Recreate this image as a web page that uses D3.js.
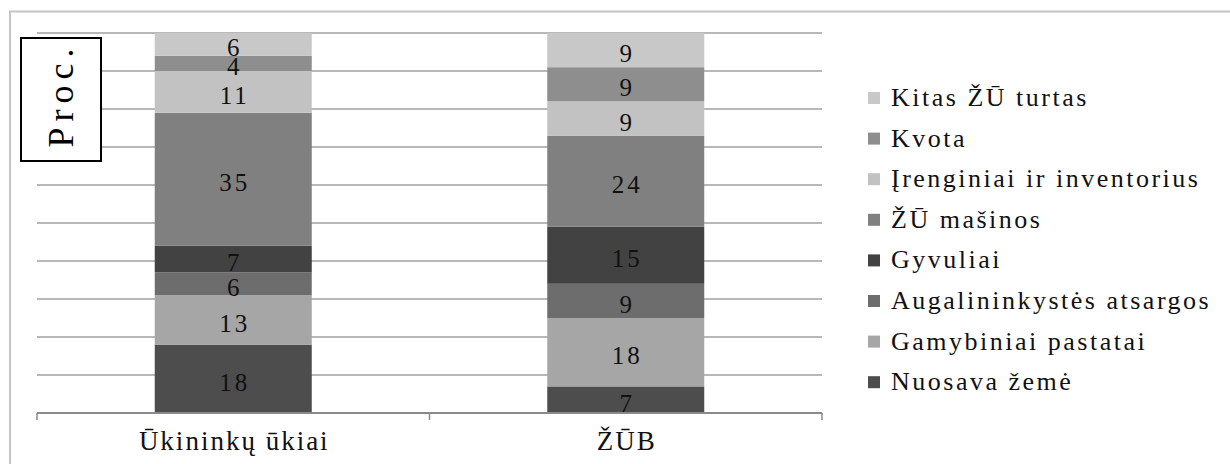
<!DOCTYPE html>
<html><head><meta charset="utf-8">
<script src="https://cdn.jsdelivr.net/npm/d3@7"></script>
<style>body{margin:0;background:#fff}svg{display:block}</style>
</head><body><svg id="c" width="1230" height="464"></svg>
<script>
const categories = ["Ūkininkų ūkiai", "ŽŪB"];
const seriesNames = ["Nuosava žemė","Gamybiniai pastatai","Augalininkystės atsargos","Gyvuliai","ŽŪ mašinos","Įrenginiai ir inventorius","Kvota","Kitas ŽŪ turtas"];
const ukininkuValues = [18,13,6,7,35,11,4,6];
const zubValues = [7,18,9,15,24,9,9,9];
const seriesColors = ["#4d4d4d","#a6a6a6","#6d6d6d","#424242","#808080","#c2c2c2","#8e8e8e","#c8c8c8"];
const yTicks = [0,10,20,30,40,50,60,70,80,90,100];
const yLabel = "Proc.";
const FONT = "'Liberation Serif', 'DejaVu Serif', 'Times New Roman', serif";

const svg = d3.select("#c").attr("font-family", FONT);
// outer frame
svg.append("rect").attr("x",10).attr("y",11.5).attr("width",1240).attr("height",470)
  .attr("fill","none").attr("stroke","#c4c4c4").attr("stroke-width",2);

const x = d3.scaleBand().domain(categories).range([37,822]).paddingInner(0.6).paddingOuter(0.3);
const y = d3.scaleLinear().domain([0,100]).range([413,33]);

// gridlines
svg.append("g").selectAll("line").data(yTicks.filter(t=>t>0)).join("line")
  .attr("x1",37).attr("x2",822).attr("y1",d=>y(d)).attr("y2",d=>y(d))
  .attr("stroke","#a0a0a0").attr("stroke-width",1.6);

// stacked data
const rows = categories.map((c,i)=>{
  const vals = i===0?ukininkuValues:zubValues;
  const o = {cat:c}; seriesNames.forEach((s,j)=>o[s]=vals[j]); return o;
});
const stack = d3.stack().keys(seriesNames)(rows);
const g = svg.append("g");
stack.forEach((layer,j)=>{
  g.selectAll(null).data(layer).join("rect")
    .attr("x",d=>x(d.data.cat)).attr("width",x.bandwidth())
    .attr("y",d=>y(d[1])).attr("height",d=>y(d[0])-y(d[1]))
    .attr("fill",seriesColors[j]);
});
const numLS = 3;
stack.forEach((layer,j)=>{
  g.selectAll(null).data(layer).join("text")
    .attr("font-family", FONT)
    .attr("x",d=>x(d.data.cat)+x.bandwidth()/2+numLS/2).attr("y",d=>(y(d[0])+y(d[1]))/2+12)
    .attr("text-anchor","middle")
    .attr("font-size",25).attr("letter-spacing",numLS).attr("fill","#111")
    .text(d=>d[1]-d[0]);
});

// x axis line
const step = x.step();
const bounds = d3.range(categories.length+1).map(i=>x.range()[0]+i*step);
svg.append("line").attr("x1",37).attr("x2",822).attr("y1",y(0)).attr("y2",y(0))
  .attr("stroke","#8a8a8a").attr("stroke-width",2);
svg.append("g").selectAll("line").data(bounds).join("line")
  .attr("x1",d=>d).attr("x2",d=>d).attr("y1",y(0)).attr("y2",y(0)+7)
  .attr("stroke","#8a8a8a").attr("stroke-width",1.5);
const xLS = 2;
svg.append("g").selectAll("text").data(categories).join("text")
  .attr("font-family", FONT)
  .attr("x",d=>x(d)+x.bandwidth()/2+xLS/2).attr("y",450)
  .attr("text-anchor","middle").attr("font-size",27).attr("letter-spacing",xLS).attr("fill","#111")
  .text(d=>d);

// Proc. box
svg.append("rect").attr("x",21).attr("y",38).attr("width",80).attr("height",123)
  .attr("fill","#fff").attr("stroke","#000").attr("stroke-width",2);
const pLS = 6;
svg.append("text").attr("transform","translate(73,98) rotate(-90)")
  .attr("font-family", FONT)
  .attr("x",pLS/2)
  .attr("text-anchor","middle").attr("font-size",36).attr("letter-spacing",pLS).attr("fill","#000")
  .text(yLabel);

// legend
const legendNames = seriesNames.slice().reverse();
const legendColors = seriesColors.slice().reverse();
const lg = svg.append("g");
legendNames.forEach((n,i)=>{
  const cy = 98 + i*40.6;
  lg.append("rect").attr("x",868).attr("y",cy-6).attr("width",12).attr("height",12).attr("fill",legendColors[i]);
  lg.append("text").attr("font-family", FONT).attr("x",891).attr("y",cy+8)
    .attr("font-size",26).attr("letter-spacing",2.5).attr("fill","#111").text(n);
});
</script></body></html>
